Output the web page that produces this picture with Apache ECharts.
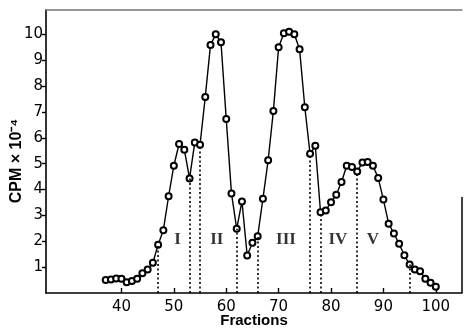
<!DOCTYPE html>
<html>
<head>
<meta charset="utf-8">
<script src="https://cdn.jsdelivr.net/npm/echarts@6/dist/echarts.min.js"></script>
<style>
html,body{margin:0;padding:0;background:#fff;}
#chart{width:464px;height:334px;}
</style>
</head>
<body>
<div id="chart"></div>
<script>
const fractions = [37,38,39,40,41,42,43,44,45,46,47,48,49,50,51,52,53,54,55,56,57,58,59,60,61,62,63,64,65,66,67,68,69,70,71,72,73,74,75,76,77,78,79,80,81,82,83,84,85,86,87,88,89,90,91,92,93,94,95,96,97,98,99,100];
const cpm = [0.50,0.52,0.56,0.55,0.42,0.46,0.55,0.76,0.91,1.17,1.87,2.43,3.74,4.92,5.76,5.54,4.43,5.82,5.73,7.58,9.59,10.0,9.69,6.73,3.85,2.48,3.54,1.45,1.94,2.19,3.64,5.13,7.04,9.50,10.04,10.10,10.0,9.42,7.18,5.38,5.69,3.12,3.19,3.51,3.80,4.29,4.92,4.87,4.70,5.04,5.06,4.92,4.45,3.61,2.68,2.30,1.90,1.46,1.10,0.91,0.84,0.55,0.40,0.24];
const xTicks = [40,50,60,70,80,90,100];
const yTicks = [1,2,3,4,5,6,7,8,9,10];
const dividerFractions = [47,53,55,62,66,76,78,85,95];
const regionNames = ['I','II','III','IV','V'];
const regionCentres = [50.7,58.2,71.4,81.3,88.0];
const regionLevel = 2.05;
const yTitle = 'CPM × 10⁻⁴';
const xTitle = 'Fractions';

const points = fractions.map((f,i)=>[f,cpm[i]]);
const dividerLines = dividerFractions.map(f=>{
  const v = cpm[fractions.indexOf(f)];
  return [{coord:[f,0]},{coord:[f,v]}];
});
const regionData = regionNames.map((n,i)=>({name:n, value:[regionCentres[i], regionLevel]}));

const chart = echarts.init(document.getElementById('chart'), null, {renderer:'canvas'});
const font = 'DejaVu Sans';
chart.setOption({
  animation:false,
  backgroundColor:'#fff',
  grid:{left:46, right:2, top:10, bottom:41, outerBoundsMode:'none', containLabel:false},
  xAxis:[{
    type:'value', min:25.6, max:105,
    axisLine:{lineStyle:{color:'#000', width:1.6}},
    axisTick:{show:true, inside:true, length:5, customValues:xTicks, lineStyle:{color:'#000', width:1.4}},
    axisLabel:{customValues:xTicks, fontFamily:font, fontSize:15, color:'#000', margin:7},
    splitLine:{show:false}
  },{
    type:'value', position:'top', min:25.6, max:105,
    axisLine:{show:true, lineStyle:{color:'#777', width:1.5}},
    axisTick:{show:false}, axisLabel:{show:false}, splitLine:{show:false}
  }],
  yAxis:{
    type:'value', min:0, max:10.94,
    axisLine:{lineStyle:{color:'#000', width:1.6}},
    axisTick:{show:true, inside:false, length:4, customValues:yTicks, lineStyle:{color:'#000', width:1.4}},
    axisLabel:{customValues:yTicks, fontFamily:font, fontSize:15, color:'#000', margin:3},
    splitLine:{show:false}
  },
  graphic:[{
    type:'line', shape:{x1:462, y1:197, x2:462, y2:293},
    style:{stroke:'#000', lineWidth:1.5}
  },{
    type:'text', x:17, y:161, rotation:Math.PI/2,
    style:{text:yTitle, fill:'#000', font:'bold 16px "Liberation Sans"', align:'center', verticalAlign:'middle'}
  },{
    type:'text', x:254, y:321,
    style:{text:xTitle, fill:'#000', font:'bold 15px "Liberation Sans"', align:'center', verticalAlign:'middle'}
  }],
  series:[{
    type:'line', data:points,
    symbol:'emptyCircle', symbolSize:6,
    lineStyle:{color:'#000', width:1.4},
    itemStyle:{color:'#000', borderWidth:1.3},
    z:3,
    markLine:{
      silent:true, symbol:'none', label:{show:false},
      lineStyle:{color:'#000', width:1.6, type:[2,2.5]},
      data:dividerLines
    }
  },{
    type:'scatter', data:regionData, symbolSize:0,
    label:{show:true, position:'inside', formatter:'{b}',
      fontFamily:'Liberation Serif', fontWeight:'bold', fontSize:17, color:'#000'}
  }]
});
</script>
</body>
</html>
